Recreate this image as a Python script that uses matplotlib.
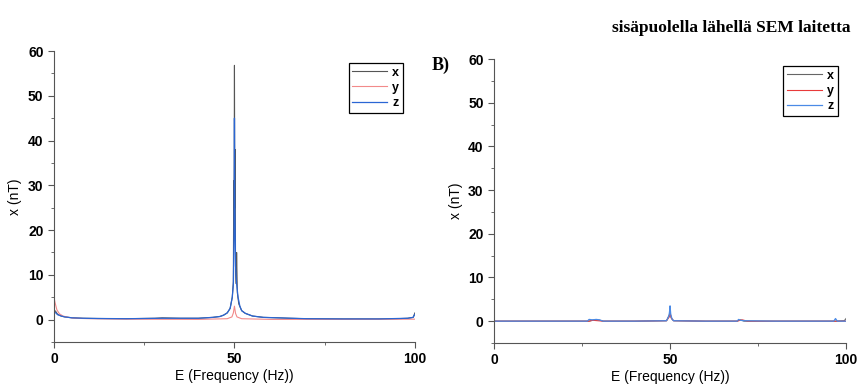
import matplotlib
matplotlib.use('Agg')
import matplotlib.pyplot as plt
from matplotlib.ticker import MultipleLocator

# --- left panel (A) ---
freq_a_x = [0, 0.5, 1, 2, 3, 5, 8, 12, 20, 28, 30, 35, 40, 44, 46, 47, 48, 48.8, 49.4, 49.7,
            49.8, 49.9, 50.0, 50.1, 50.2, 50.3, 50.5, 50.6, 50.8, 51.2, 52, 53, 55, 58, 62, 65,
            70, 80, 90, 95, 98, 99.5, 100]
val_a_x = [2.2, 1.8, 1.2, 0.8, 0.6, 0.4, 0.3, 0.25, 0.2, 0.3, 0.4, 0.3, 0.3, 0.5, 0.7, 1.0, 1.5,
           2.5, 5.0, 8.5, 31.0, 20.0, 56.8, 25.0, 38.0, 12.0, 8.0, 15.0, 6.0, 3.5, 2.0, 1.4, 0.8,
           0.5, 0.4, 0.3, 0.2, 0.15, 0.15, 0.2, 0.3, 0.5, 1.5]

freq_a_y = [0, 0.3, 0.8, 1.5, 2.5, 4, 6, 10, 20, 40, 48, 49.3, 49.7, 50.0, 50.3, 50.7, 52, 60, 80, 100]
val_a_y = [5.0, 3.8, 2.2, 1.3, 0.8, 0.5, 0.3, 0.2, 0.1, 0.05, 0.2, 0.6, 1.5, 3.0, 1.4, 0.6, 0.2, 0.05, 0.05, 0.1]

freq_a_z = [0, 0.5, 1, 2, 3, 5, 8, 12, 20, 30, 40, 44, 46, 47, 48, 48.8, 49.4, 49.7, 49.9,
            50.0, 50.1, 50.3, 50.6, 51, 51.5, 52, 53, 55, 58, 62, 70, 80, 90, 98, 99.5, 100]
val_a_z = [1.8, 1.5, 1.1, 0.8, 0.6, 0.4, 0.3, 0.25, 0.2, 0.3, 0.3, 0.5, 0.7, 1.0, 1.5, 2.5, 5.0,
           8.0, 20.0, 45.0, 26.0, 12.0, 8.0, 5.0, 3.0, 2.0, 1.4, 0.8, 0.5, 0.4, 0.2, 0.15, 0.15,
           0.3, 0.5, 1.2]

# --- right panel (B) ---
freq_b_x = [0, 10, 27, 28.5, 30, 31, 40, 49, 49.8, 50.0, 50.3, 51, 60, 69, 70, 71, 80, 97, 99.5, 100]
val_b_x = [0.0, 0.0, 0.0, 0.3, 0.2, 0.0, 0.0, 0.1, 1.5, 2.2, 0.8, 0.1, 0.0, 0.0, 0.3, 0.0, 0.0, 0.0, 0.1, 0.6]

freq_b_y = [0, 27, 28, 29.5, 31, 40, 49, 49.8, 50.0, 50.4, 51, 60, 69, 70.5, 72, 80, 100]
val_b_y = [0.0, 0.0, 0.2, 0.1, 0.0, 0.0, 0.1, 1.0, 1.8, 0.6, 0.1, 0.0, 0.0, 0.3, 0.0, 0.0, 0.0]

freq_b_z = [0, 26.5, 27, 28, 29, 30, 31, 40, 49, 49.7, 49.9, 50.0, 50.2, 50.6, 51, 60, 69, 69.5,
            70, 71, 80, 96.5, 97, 97.5, 100]
val_b_z = [0.0, 0.0, 0.4, 0.3, 0.4, 0.3, 0.0, 0.0, 0.1, 1.2, 2.5, 3.5, 1.5, 0.4, 0.1, 0.0, 0.0,
           0.4, 0.2, 0.1, 0.0, 0.0, 0.6, 0.0, 0.0]

series_labels = ['x', 'y', 'z']
colors_a = ['#555555', '#f28a8a', '#2a66d4']
colors_b = ['#666666', '#e83a3a', '#4a8ae6']

tick_font = {'family': ['Liberation Sans Narrow', 'Liberation Sans', 'DejaVu Sans'], 'weight': 'bold', 'size': 10}
label_font = {'family': ['Liberation Sans', 'DejaVu Sans'], 'size': 10}

fig = plt.figure(figsize=(8.58, 3.9), dpi=100)
ax_a = fig.add_axes([0.0629, 0.1231, 0.4207, 0.7461])
ax_b = fig.add_axes([0.5758, 0.1205, 0.4103, 0.7282])


def style_axes(ax):
    ax.set_xlim(0, 100)
    ax.set_ylim(-5, 60)
    ax.spines['top'].set_visible(False)
    ax.spines['right'].set_visible(False)
    ax.spines['left'].set_color('#555555')
    ax.spines['bottom'].set_color('#555555')
    ax.xaxis.set_major_locator(MultipleLocator(50))
    ax.xaxis.set_minor_locator(MultipleLocator(25))
    ax.yaxis.set_major_locator(MultipleLocator(10))
    ax.yaxis.set_minor_locator(MultipleLocator(5))
    ax.tick_params(which='major', length=4, width=0.8, color='#555555')
    ax.tick_params(which='minor', length=2.5, width=0.6, color='#555555')
    ax.set_yticks([0, 10, 20, 30, 40, 50, 60])
    for lab in ax.get_xticklabels() + ax.get_yticklabels():
        lab.set_fontfamily(tick_font['family'])
        lab.set_fontweight('bold')
        lab.set_fontsize(tick_font['size'])
    ax.set_xlabel('E (Frequency (Hz))', fontdict=label_font, labelpad=2)
    ax.set_ylabel('x (nT)', fontdict=label_font, labelpad=4)


style_axes(ax_a)
style_axes(ax_b)

ax_a.plot(freq_a_x, val_a_x, color=colors_a[0], lw=0.8, label=series_labels[0])
ax_a.plot(freq_a_y, val_a_y, color=colors_a[1], lw=0.8, label=series_labels[1])
ax_a.plot(freq_a_z, val_a_z, color=colors_a[2], lw=0.9, label=series_labels[2])

ax_b.plot(freq_b_x, val_b_x, color=colors_b[0], lw=0.8, label=series_labels[0])
ax_b.plot(freq_b_y, val_b_y, color=colors_b[1], lw=0.8, label=series_labels[1])
ax_b.plot(freq_b_z, val_b_z, color=colors_b[2], lw=0.9, label=series_labels[2])

leg_font = {'family': ['Liberation Sans', 'DejaVu Sans'], 'weight': 'bold', 'size': 9}
for ax, anchor in [(ax_a, (0.967, 0.959)), (ax_b, (0.977, 0.975))]:
    leg = ax.legend(loc='upper right', bbox_to_anchor=anchor, prop=leg_font, fancybox=False,
                    edgecolor='black', framealpha=1, handlelength=2.8, handletextpad=0.4,
                    labelspacing=0.25, borderpad=0.3, borderaxespad=0)
    leg.get_frame().set_linewidth(0.9)

fig.text(0.5035, 0.832, 'B)', fontfamily=['Liberation Serif', 'DejaVu Serif'], fontweight='bold',
         fontsize=13, ha='left', va='center')
fig.text(0.991, 0.928, 'sisäpuolella lähellä SEM laitetta',
         fontfamily=['Liberation Serif', 'DejaVu Serif'], fontweight='bold', fontsize=12.5,
         ha='right', va='center')

fig.savefig('out.png', dpi=100)
